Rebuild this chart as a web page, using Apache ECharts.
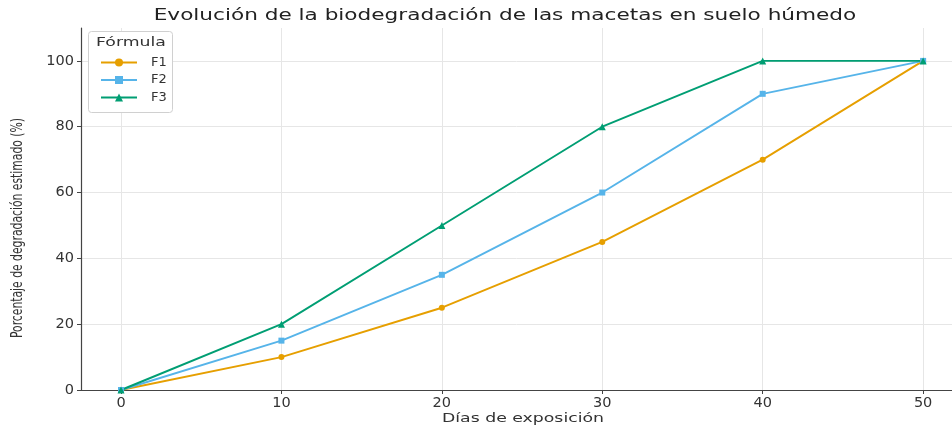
<!DOCTYPE html>
<html>
<head>
<meta charset="utf-8">
<script src="https://cdn.jsdelivr.net/npm/echarts@6/dist/echarts.min.js"></script>
<style>html,body{margin:0;padding:0;background:#fff}#c{width:952px;height:429px}</style>
</head>
<body>
<div id="c"></div>
<script>
var days = [0, 10, 20, 30, 40, 50];
var f1 = [0, 10, 25, 45, 70, 100];
var f2 = [0, 15, 35, 60, 90, 100];
var f3 = [0, 20, 50, 80, 100, 100];
var seriesNames = ['F1', 'F2', 'F3'];
var titleText = 'Evolución de la biodegradación de las macetas en suelo húmedo';
var xTitle = 'Días de exposición';
var yTitle = 'Porcentaje de degradación estimado (%)';
var legendTitle = 'Fórmula';

var colors = ['#E69F00', '#56B4E9', '#009E73'];
var FONT = "'DejaVu Sans', Verdana, sans-serif";
var STRETCH = 1.44;
function pairs(v){ return days.map(function(d,i){ return [d, v[i]]; }); }

var chart = echarts.init(document.getElementById('c'));
var gridTop = 28, gridBottom = 39;
chart.setOption({
  animation: false,
  backgroundColor: '#ffffff',
  color: colors,
  grid: [
    { left: 81, right: 0, top: gridTop, bottom: gridBottom },
    { left: 121, right: 0, top: gridTop, bottom: gridBottom }
  ],
  xAxis: [
    { type: 'value', gridIndex: 0, min: -2.5, max: 51.8, show: true,
      axisLine: { show: true, onZero: false, lineStyle: { color: '#444', width: 1.2 } },
      axisTick: { show: false }, axisLabel: { show: false }, splitLine: { show: false } },
    { type: 'value', gridIndex: 1, min: 0, max: 51.8, interval: 10,
      axisLine: { show: false },
      axisTick: { show: true, length: 4, lineStyle: { color: '#444' } },
      axisLabel: { fontFamily: FONT, fontSize: 14.5, color: '#333', margin: 6, showMaxLabel: false },
      splitLine: { show: true, showMaxLine: false, lineStyle: { color: '#e6e6e6', width: 1 } } }
  ],
  yAxis: [
    { type: 'value', gridIndex: 0, min: 0, max: 110, interval: 20,
      axisLine: { show: true, onZero: false, lineStyle: { color: '#444', width: 1.2 } },
      axisTick: { show: true, length: 4, lineStyle: { color: '#444' } },
      axisLabel: { fontFamily: FONT, fontSize: 14.5, color: '#333', margin: 7, showMaxLabel: false },
      splitLine: { show: true, showMaxLine: false, lineStyle: { color: '#e6e6e6', width: 1 } } },
    { type: 'value', gridIndex: 1, min: 0, max: 110, show: false, splitLine: { show: false } }
  ],
  legend: {
    data: seriesNames, left: 95, top: 51, orient: 'vertical', z: 10,
    itemWidth: 36, itemHeight: 10, itemGap: 4.5,
    textStyle: { fontFamily: FONT, fontSize: 13, color: '#333', padding: [0, 0, 0, 9] }
  },
  graphic: [
    { type: 'rect', left: 88, top: 31, z: 1, shape: { width: 84, height: 81, r: 3 },
      style: { fill: '#ffffff', stroke: '#d0d0d0', lineWidth: 1 } },
    { type: 'text', x: 96, y: 43, z: 2, scaleX: STRETCH,
      style: { text: legendTitle, font: "12px 'DejaVu Sans', sans-serif", fill: '#333', textVerticalAlign: 'middle' } },
    { type: 'text', x: 505, y: 16, scaleX: STRETCH,
      style: { text: titleText, font: "15px 'DejaVu Sans', sans-serif", fill: '#222', textAlign: 'center', textVerticalAlign: 'middle' } },
    { type: 'text', x: 523, y: 419, scaleX: STRETCH,
      style: { text: xTitle, font: "12px 'DejaVu Sans', sans-serif", fill: '#333', textAlign: 'center', textVerticalAlign: 'middle' } },
    { type: 'text', x: 18, y: 228, rotation: Math.PI / 2, scaleY: 1.3,
      style: { text: yTitle, font: "12px 'DejaVu Sans Condensed', 'DejaVu Sans', sans-serif", fill: '#333', textAlign: 'center', textVerticalAlign: 'middle' } }
  ],
  series: [
    { name: seriesNames[0], type: 'line', xAxisIndex: 1, yAxisIndex: 1, data: pairs(f1),
      symbol: 'circle', symbolSize: 6, lineStyle: { width: 1.9 }, z: 3 },
    { name: seriesNames[1], type: 'line', xAxisIndex: 1, yAxisIndex: 1, data: pairs(f2),
      symbol: 'rect', symbolSize: 6, lineStyle: { width: 1.9 }, z: 3 },
    { name: seriesNames[2], type: 'line', xAxisIndex: 1, yAxisIndex: 1, data: pairs(f3),
      symbol: 'triangle', symbolSize: 7, lineStyle: { width: 1.9 }, z: 3 }
  ]
});
</script>
</body>
</html>
